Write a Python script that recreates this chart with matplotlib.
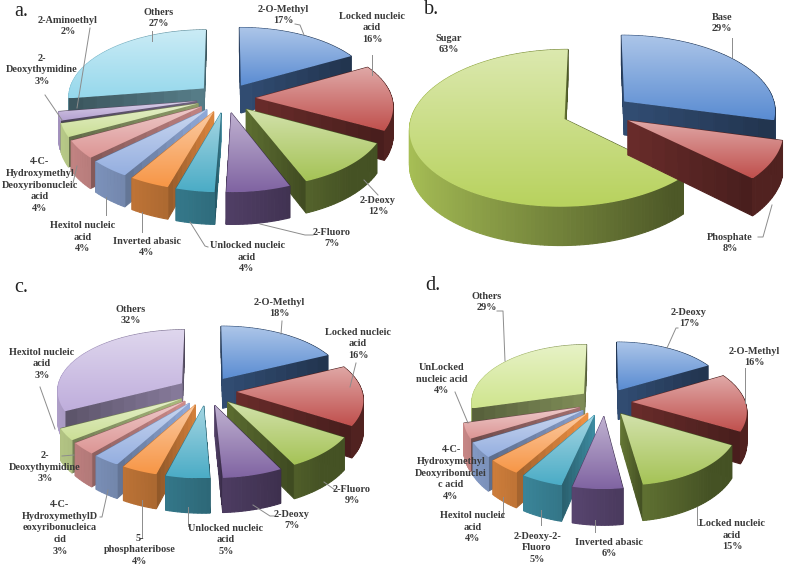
import numpy as np
import matplotlib
matplotlib.use("Agg")
import matplotlib.pyplot as plt
from matplotlib.patches import Polygon

plt.rcParams['font.family'] = ['Liberation Serif', 'DejaVu Serif']

# panel data
labels_a = ["2-O-Methyl", "Locked nucleic\nacid", "2-Deoxy", "2-Fluoro", "Unlocked nucleic\nacid",
            "Inverted abasic", "Hexitol nucleic\nacid", "4-C-\nHydroxymethyl\nDeoxyribonucleic\nacid",
            "2-\nDeoxythymidine", "2-Aminoethyl", "Others"]
values_a = [17, 16, 12, 7, 4, 4, 4, 4, 3, 2, 27]

labels_b = ["Base", "Phosphate", "Sugar"]
values_b = [29, 8, 63]

labels_c = ["2-O-Methyl", "Locked nucleic\nacid", "2-Fluoro", "2-Deoxy", "Unlocked nucleic\nacid",
            "5-\nphosphateribose", "4-C-\nHydroxymethylD\neoxyribonucleica\ncid",
            "2-\nDeoxythymidine", "Hexitol nucleic\nacid", "Others"]
values_c = [18, 16, 9, 7, 5, 4, 3, 3, 3, 32]

labels_d = ["2-Deoxy", "2-O-Methyl", "Locked nucleic\nacid", "Inverted abasic", "2-Deoxy-2-\nFluoro",
            "Hexitol nucleic\nacid", "4-C-\nHydroxymethyl\nDeoxyribonuclei\nc acid",
            "UnLocked\nnucleic acid", "Others"]
values_d = [17, 16, 15, 6, 5, 4, 4, 4, 29]

# office style palette
colors_a = ['#5A8CD2', '#C0504D', '#A5C356', '#8064A2', '#4BACC6', '#F79646',
            '#95AFE0', '#DC9594', '#CBDF96', '#B3A0D0', '#96D8EC']
colors_b = ['#5A8CD2', '#C0504D', '#B8D25E']
colors_c = colors_a[:6] + ['#95AFE0', '#DC9594', '#CBDF96', '#BFAEDC']
colors_d = colors_a[:6] + ['#95AFE0', '#DC9594', '#CFE58E']

# label centres in pixels
pos_a = [(283, 15), (372, 28), (378, 206), (332, 238), (247, 257), (147, 247), (83, 237), (40, 185), (42, 70),
         (68, 26), (159, 18)]
pos_b = [(722, 23), (730, 243), (449, 44)]
pos_c = [(279, 308), (358, 344), (352, 495), (292, 520), (226, 540), (140, 550), (60, 528), (45, 467), (42, 364),
         (131, 315)]
pos_d = [(689, 318), (754, 357), (732, 535), (609, 548), (537, 548), (473, 527), (451, 473), (442, 379), (487, 302)]

leaders = [
    [(295, 24), (300, 25), (304, 35)], [(372, 55), (372, 75)], [(152, 31), (152, 41)], [(90, 28), (77, 108)],
    [(45, 95), (62, 120)], [(77, 166), (73, 183)], [(106, 197), (106, 215)], [(142, 212), (142, 232)],
    [(190, 222), (205, 246), (208, 247)], [(260, 224), (305, 235), (313, 235)], [(364, 180), (378, 195)],
    [(732, 38), (732, 57)], [(772, 205), (763, 237), (758, 237)],
    [(282, 321), (281, 334)], [(356, 363), (350, 387)], [(40, 387), (55, 429)], [(62, 456), (74, 455)],
    [(100, 517), (102, 517), (108, 490)], [(142, 537), (142, 500)], [(188, 526), (188, 507)],
    [(253, 505), (270, 516), (274, 516)], [(324, 482), (335, 490)],
    [(678, 328), (676, 328), (667, 348)], [(745, 368), (745, 403)], [(697, 507), (697, 525), (702, 525)],
    [(595, 520), (595, 532)], [(541, 510), (541, 525)], [(503, 497), (503, 517), (500, 517)],
    [(455, 392), (468, 423)], [(497, 311), (503, 311), (505, 361)],
]


def wall_shade(theta):
    return float(np.clip(0.62 - 0.30 * np.sin(theta), 0.42, 0.92))


def cut_shade(theta):
    deg = np.degrees(theta) % 360
    return 0.45 + 0.35 * np.exp(-((deg - 215) / 30) ** 2)


def scaled(rgb, f):
    return tuple(np.clip(np.array(rgb) * f, 0, 1))


def drawpie(ax, values, colors, cx, cy, rx, ry, k, depth, explode, pull):
    def project(u, v):
        p = 1 / (1 + k * v)
        return cx + rx * u * p, cy - ry * v * p, depth * p

    # the perspective in the original pulls the front slices round a bit
    def warp(theta):
        return theta - pull * np.exp(-((np.degrees(theta) - 195) / 60) ** 2)

    fracs = np.array(values) / sum(values)
    edges = np.concatenate([[0], np.cumsum(fracs)]) * 2 * np.pi
    order = np.argsort(-np.cos((edges[:-1] + edges[1:]) / 2))
    z = 2
    for i in order:
        ts, te = edges[i], edges[i + 1]
        mid = warp((ts + te) / 2)
        base = matplotlib.colors.to_rgb(colors[i])
        ou, ov = explode * np.sin(mid), explode * np.cos(mid)
        thetas = warp(np.linspace(ts, te, max(8, int((te - ts) * 40))))
        arc = [project(np.sin(t) + ou, np.cos(t) + ov) for t in thetas]
        apex = project(ou, ov)

        faces = []
        for t, outer in ((ts, arc[0]), (te, arc[-1])):
            for j in range(10):
                a, b = j / 10, (j + 1) / 10
                p1 = [apex[n] + (outer[n] - apex[n]) * a for n in range(3)]
                p2 = [apex[n] + (outer[n] - apex[n]) * b for n in range(3)]
                quad = [(p1[0], p1[1]), (p2[0], p2[1]), (p2[0], p2[1] + p2[2]), (p1[0], p1[1] + p1[2])]
                faces.append((quad, scaled(base, cut_shade(t) * (1.2 - 0.4 * a))))
        for j in range(len(arc) - 1):
            p1, p2 = arc[j], arc[j + 1]
            quad = [(p1[0], p1[1]), (p2[0], p2[1]), (p2[0], p2[1] + p2[2]), (p1[0], p1[1] + p1[2])]
            faces.append((quad, scaled(base, wall_shade(thetas[j]))))
        faces.sort(key=lambda f: np.mean([q[1] for q in f[0]]))
        for quad, col in faces:
            ax.add_patch(Polygon(quad, closed=True, facecolor=col, edgecolor=col, linewidth=0.8, zorder=z))
            z += 1

        # top face, light at the back and full colour at the front
        outline = [(apex[0], apex[1])] + [(q[0], q[1]) for q in arc]
        xs = [q[0] for q in outline]
        ys = [q[1] for q in outline]
        light = np.array(base) + (1 - np.array(base)) * 0.5
        grad = np.linspace(light, np.array(base), 64).reshape(64, 1, 3)
        im = ax.imshow(grad, extent=(min(xs), max(xs), max(ys), min(ys)), aspect='auto', zorder=z,
                       interpolation='bilinear')
        im.set_clip_path(Polygon(outline, closed=True, transform=ax.transData))
        z += 1


def drawlabels(ax, labels, values, positions):
    for lab, val, (x, y) in zip(labels, values, positions):
        ax.text(x, y, f"{lab}\n{val}%", ha='center', va='center', fontsize=7.4, fontweight='bold',
                color='#3a3a3a', linespacing=1.38, zorder=5000)


fig = plt.figure(figsize=(7.87, 5.68), dpi=100)
ax = fig.add_axes([0, 0, 1, 1])

drawpie(ax, values_a, colors_a, 226, 98, 136, 67, 0.11, 28, 0.22, 0.09)
drawpie(ax, values_b, colors_b, 597, 112, 152, 76, 0.114, 34, 0.23, 0.0)
drawpie(ax, values_c, colors_c, 207, 391, 125, 61, 0.11, 30, 0.24, 0.05)
drawpie(ax, values_d, colors_d, 605, 402, 113, 58, 0.14, 30, 0.24, 0.02)

for line in leaders:
    ax.plot([p[0] for p in line], [p[1] for p in line], color='#8c8c8c', linewidth=0.7, zorder=4000)

drawlabels(ax, labels_a, values_a, pos_a)
drawlabels(ax, labels_b, values_b, pos_b)
drawlabels(ax, labels_c, values_c, pos_c)
drawlabels(ax, labels_d, values_d, pos_d)

for name, x, y in (("a.", 21, 11), ("b.", 432, 10), ("c.", 21, 287), ("d.", 433, 286)):
    ax.text(x, y, name, ha='center', va='center', fontsize=14.5, color='#222222', zorder=5000)

ax.set_xlim(0, 787)
ax.set_ylim(568, 0)
ax.axis('off')
fig.savefig("out.png", dpi=100)
